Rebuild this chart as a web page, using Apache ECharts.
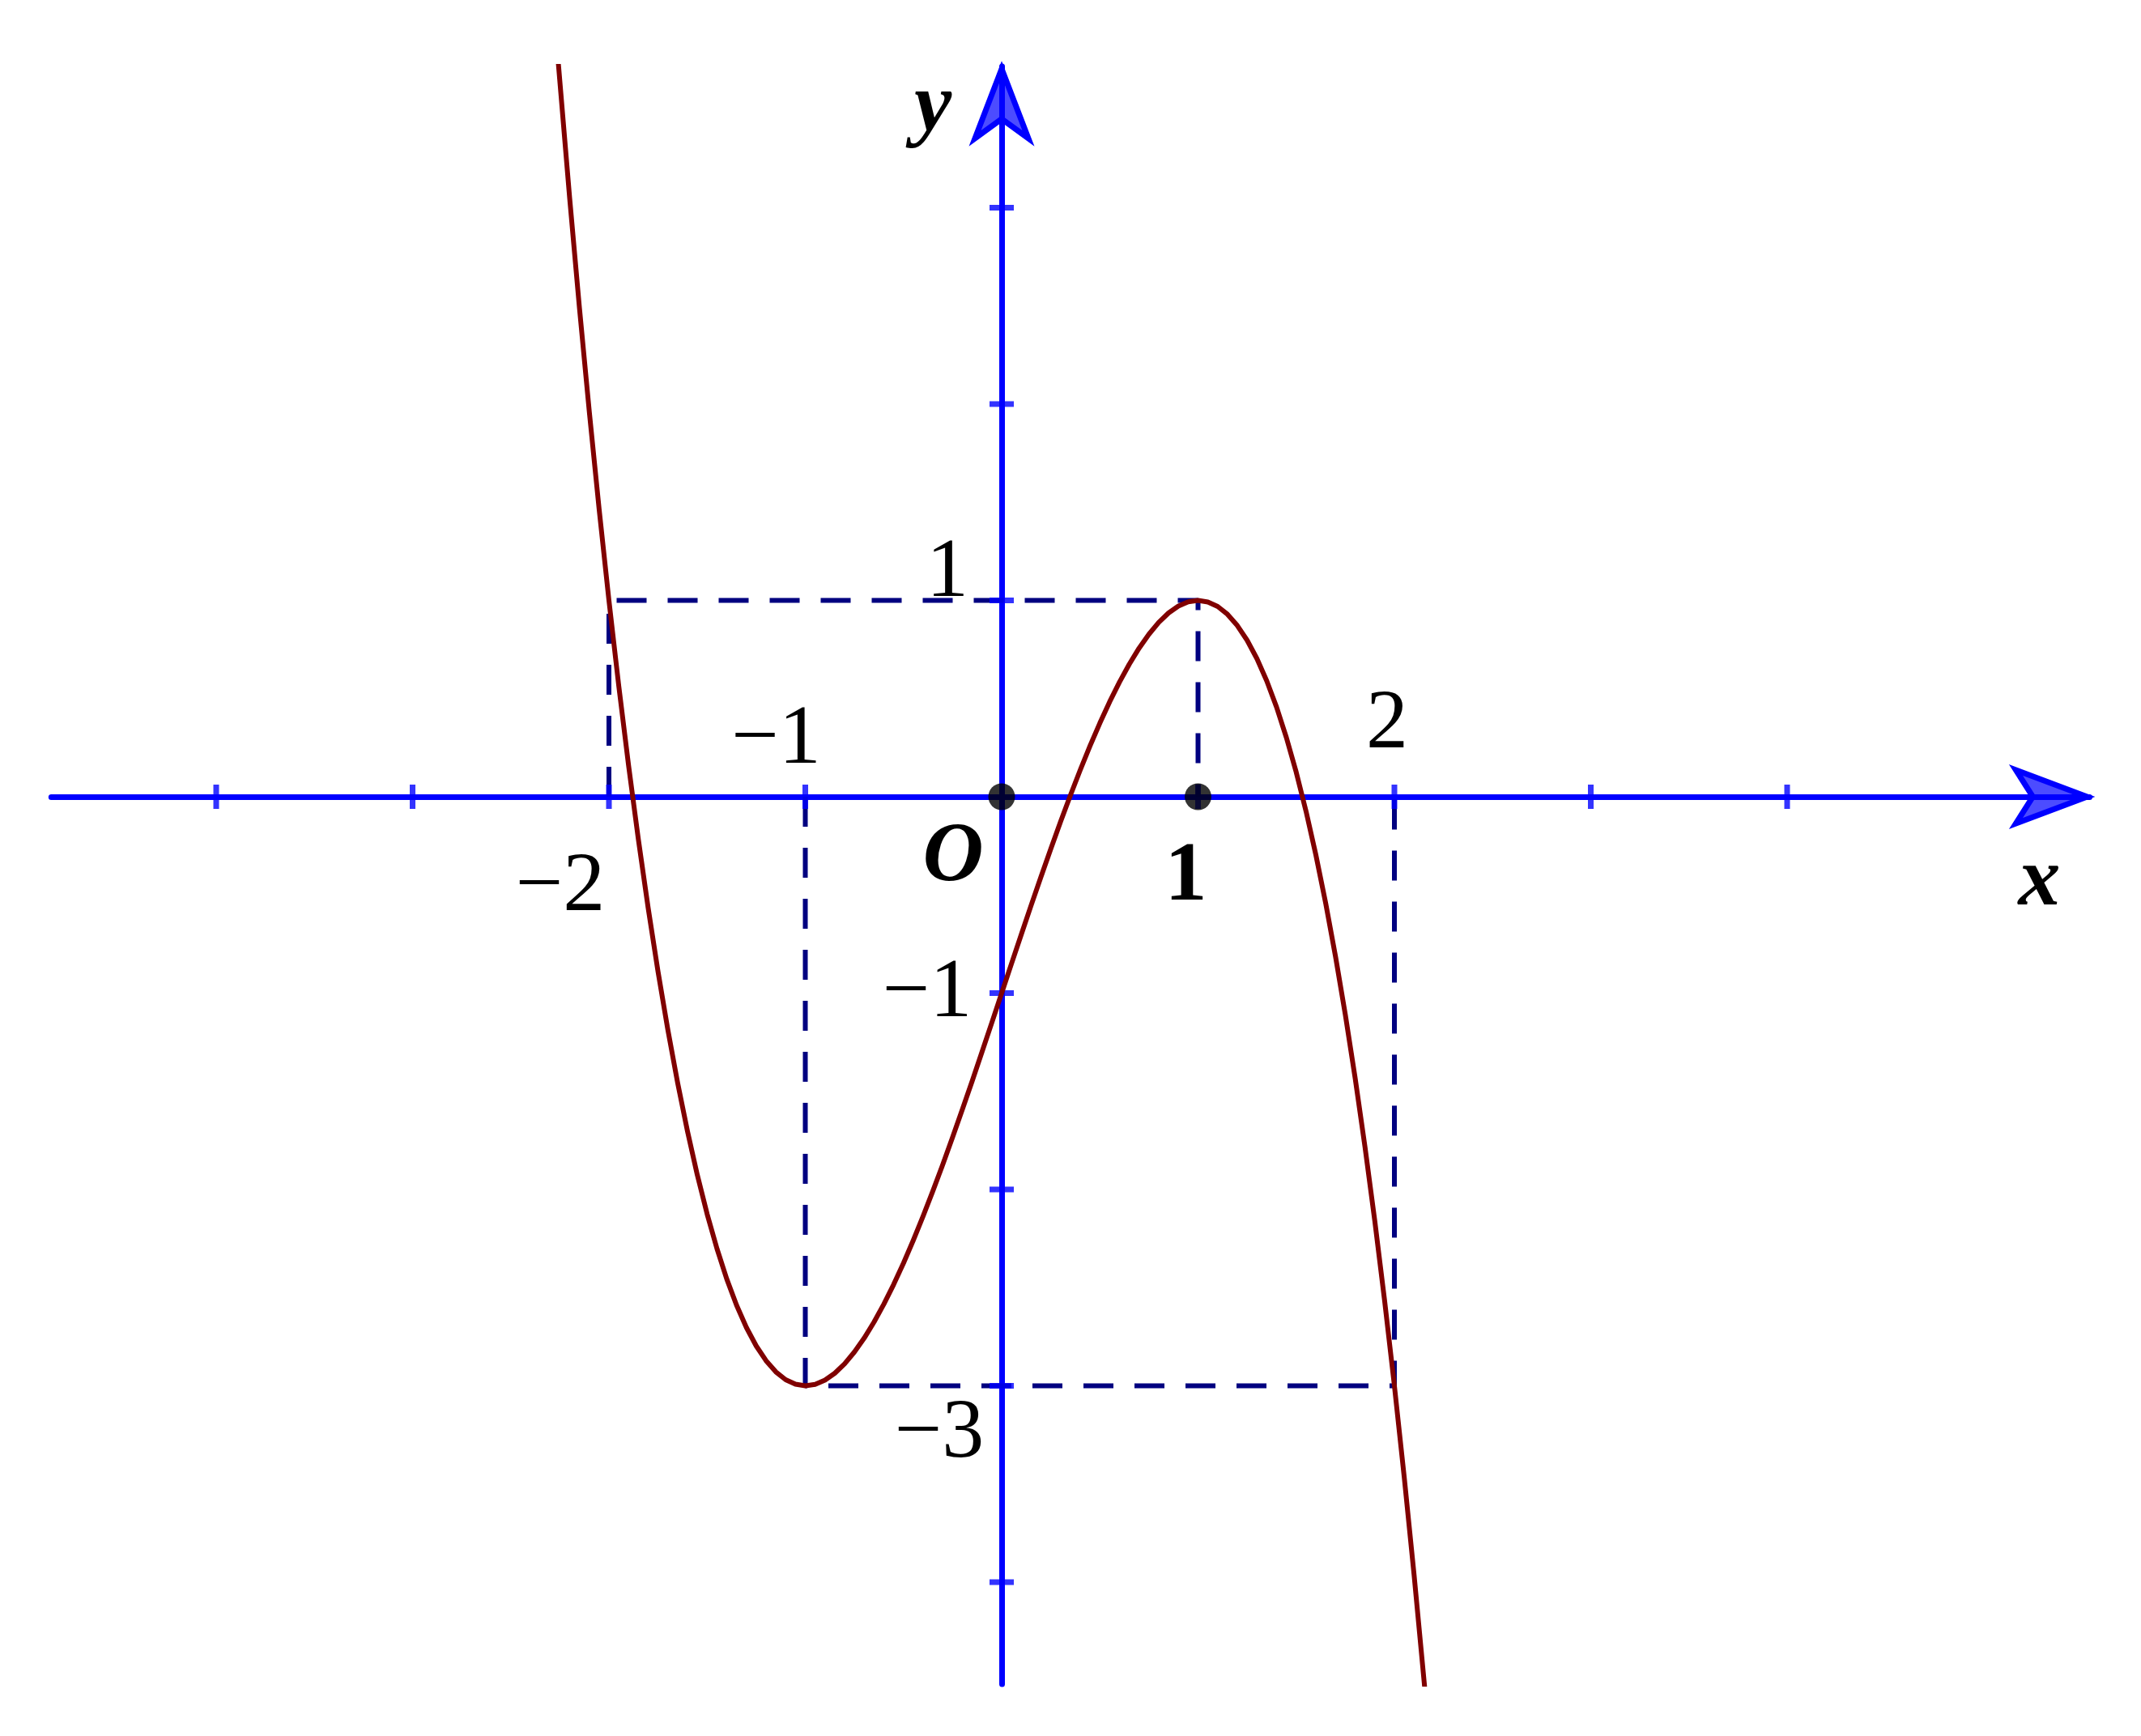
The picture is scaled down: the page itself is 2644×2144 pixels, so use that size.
<!DOCTYPE html>
<html>
<head>
<meta charset="utf-8">
<script src="https://cdn.jsdelivr.net/npm/echarts@6/dist/echarts.min.js"></script>
<style>
html,body{margin:0;padding:0;background:#fff;}
#c{width:2644px;height:2144px;}
</style>
</head>
<body>
<div id="c"></div>
<script>
// Curve y = f(x)
const curveX = [-2.26,-2.20,-2.15,-2.10,-2.05,-2.00,-1.95,-1.90,-1.85,-1.80,-1.75,-1.70,-1.65,-1.60,-1.55,-1.50,-1.45,-1.40,-1.35,-1.30,-1.25,-1.20,-1.15,-1.10,-1.05,-1.00,-0.95,-0.90,-0.85,-0.80,-0.75,-0.70,-0.65,-0.60,-0.55,-0.50,-0.45,-0.40,-0.35,-0.30,-0.25,-0.20,-0.15,-0.10,-0.05,0.00,0.05,0.10,0.15,0.20,0.25,0.30,0.35,0.40,0.45,0.50,0.55,0.60,0.65,0.70,0.75,0.80,0.85,0.90,0.95,1.00,1.05,1.10,1.15,1.20,1.25,1.30,1.35,1.40,1.45,1.50,1.55,1.60,1.65,1.70,1.75,1.80,1.85,1.90,1.95,2.00,2.05,2.10,2.16];
const curveY = [3.763,3.048,2.488,1.961,1.465,1.000,0.565,0.159,-0.218,-0.568,-0.891,-1.187,-1.458,-1.704,-1.926,-2.125,-2.301,-2.456,-2.590,-2.703,-2.797,-2.872,-2.929,-2.969,-2.992,-3.000,-2.993,-2.971,-2.936,-2.888,-2.828,-2.757,-2.675,-2.584,-2.484,-2.375,-2.259,-2.136,-2.007,-1.873,-1.734,-1.592,-1.447,-1.299,-1.150,-1.000,-0.850,-0.701,-0.553,-0.408,-0.266,-0.127,0.007,0.136,0.259,0.375,0.484,0.584,0.675,0.757,0.828,0.888,0.936,0.971,0.993,1.000,0.992,0.969,0.929,0.872,0.797,0.703,0.590,0.456,0.301,0.125,-0.074,-0.296,-0.542,-0.813,-1.109,-1.432,-1.782,-2.159,-2.565,-3.000,-3.465,-3.961,-4.598];

// Axis extents
const xRange = [-4.84, 5.54];
const yRange = [-4.52, 3.72];

// Tick values
const xTicks = [-4,-3,-2,-1,1,2,3,4];
const yTicks = [-4,-3,-2,-1,1,2,3];

// Dashed guide polylines
const guideA = [[-2,0],[-2,1],[1,1],[1,0]];
const guideB = [[-1,0],[-1,-3],[2,-3],[2,0]];

// Marked points
const dots = [[0,0],[1,0]];

// Labels
const labelTexts = ['\u22121','\u22122','2','1','O','1','\u22121','\u22123','x','y'];
const labelAnchors = [[-1,0],[-2,0],[2,0],[1,0],[0,0],[0,1],[0,-1],[0,-3],[5.54,0],[0,3.72]];

const labelStyles = [
  {offset:[-36,-69]},
  {offset:[-60,113]},
  {offset:[-9,-88]},
  {offset:[-15,100], fontWeight:'bold'},
  {offset:[-60,76], fontWeight:'bold', fontStyle:'italic'},
  {offset:[-67,-33]},
  {offset:[-92,1]},
  {offset:[-77,60]},
  {offset:[-62,106], fontWeight:'bold', fontStyle:'italic'},
  {offset:[-85,52], fontWeight:'bold', fontStyle:'italic'}
];

const U = 242.5;
const gridLeft = 1237 + xRange[0]*U;
const gridTop = 984 - yRange[1]*U;

const chart = echarts.init(document.getElementById('c'), null, {renderer:'canvas'});

const dashStyle = {color:'#000080', width:6, type:[37,26]};

const option = {
  animation:false,
  backgroundColor:'#ffffff',
  grid:{left:gridLeft, top:gridTop, width:(xRange[1]-xRange[0])*U, height:(yRange[1]-yRange[0])*U, containLabel:false},
  xAxis:{type:'value', min:xRange[0], max:xRange[1],
    axisLine:{show:true, onZero:true, lineStyle:{color:'#0000ff', width:7}},
    axisTick:{show:false}, axisLabel:{show:false}, splitLine:{show:false}},
  yAxis:{type:'value', min:yRange[0], max:yRange[1],
    axisLine:{show:true, onZero:true, lineStyle:{color:'#0000ff', width:7}},
    axisTick:{show:false}, axisLabel:{show:false}, splitLine:{show:false}},
  series:[
    {type:'scatter', name:'xticks', data:xTicks.map(v=>[v,0]), symbol:'rect', symbolSize:[7,30],
      itemStyle:{color:'#0000ff'}, silent:true, z:3},
    {type:'scatter', name:'yticks', data:yTicks.map(v=>[0,v]), symbol:'rect', symbolSize:[30,7],
      itemStyle:{color:'#0000ff'}, silent:true, z:3},
    {type:'line', data:guideA, showSymbol:false, symbol:'none', lineStyle:dashStyle, z:2, silent:true},
    {type:'line', data:guideB, showSymbol:false, symbol:'none', lineStyle:dashStyle, z:2, silent:true},
    {type:'line', data:curveX.map((x,i)=>[x,curveY[i]]), showSymbol:false, symbol:'none', smooth:false,
      clip:true, lineStyle:{color:'#800000', width:6, join:'round'}, z:4, silent:true},
    {type:'custom', name:'arrows', data:[[xRange[1],0,0],[0,yRange[1],1]], z:5, silent:true,
      renderItem:function(params, api){
        const p = api.coord([api.value(0), api.value(1)]);
        const dir = api.value(2);
        let pts;
        if(dir===0){
          const tx = p[0]-3;
          pts = [[tx,p[1]],[tx-88,p[1]-33],[tx-67,p[1]],[tx-88,p[1]+33]];
        } else {
          const ty = p[1]+3;
          pts = [[p[0],ty],[p[0]-33,ty+86],[p[0],ty+62],[p[0]+33,ty+86]];
        }
        return {type:'polygon', shape:{points:pts},
          style:{fill:'rgba(0,0,255,0.7)', stroke:'#0000ff', lineWidth:7, lineJoin:'miter'}};
      }},
    {type:'scatter', name:'dots', data:dots, symbol:'circle', symbolSize:33,
      itemStyle:{color:'#000000'}, z:6, silent:true},
    {type:'scatter', name:'labels', symbolSize:0, silent:true, z:7,
      data:labelAnchors.map((a,i)=>({value:a, name:labelTexts[i],
        label:Object.assign({show:true, position:'inside', formatter:labelTexts[i],
          fontFamily:"'Liberation Serif', 'Times New Roman', serif", fontSize:104, color:'#000000',
          textBorderWidth:0, opacity:1,
          align:'center', verticalAlign:'middle'}, labelStyles[i])}))}
  ]
};
chart.setOption(option);
</script>
</body>
</html>
